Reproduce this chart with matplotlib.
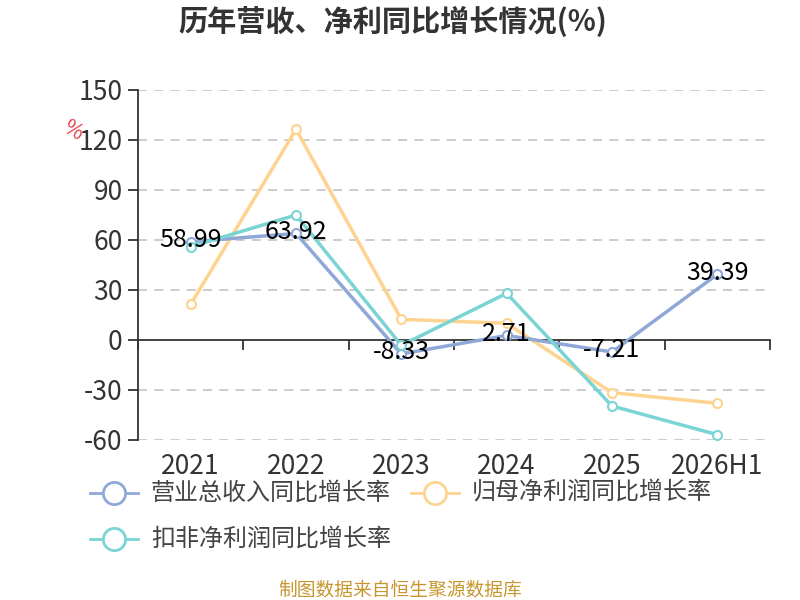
import matplotlib
matplotlib.use("Agg")
import matplotlib.pyplot as plt
import matplotlib.transforms as mtransforms
from matplotlib.lines import Line2D

plt.rcParams['font.family'] = ['Noto Sans CJK SC', 'DejaVu Sans']

categories = ['2021', '2022', '2023', '2024', '2025', '2026H1']
revenue_growth = [58.99, 63.92, -8.33, 2.71, -7.21, 39.39]
netprofit_growth = [21.4, 126.4, 12.4, 10.0, -31.6, -38.0]
deducted_growth = [56.0, 75.0, -3.2, 28.0, -39.6, -56.8]
series_names = ['营业总收入同比增长率', '归母净利润同比增长率', '扣非净利润同比增长率']
yticks = [-60, -30, 0, 30, 60, 90, 120, 150]

colors = ['#8fa8d8', '#fdd38f', '#7ad4d4']
text_color = '#333333'

fig = plt.figure(figsize=(8, 6), dpi=100)
ax = fig.add_axes([138/800, 1-440/600, (770-138)/800, 350/600])

x = list(range(len(categories)))
series = [revenue_growth, netprofit_growth, deducted_growth]
zorders = [4, 3, 5]
for vals, c, z in zip(series, colors, zorders):
    ax.plot(x, vals, color=c, lw=2.5, marker='o', ms=6.5, mfc='white',
            mec=c, mew=1.5, zorder=z, solid_joinstyle='round')

for xi, v in zip(x, revenue_growth):
    ax.text(xi, v + 1.0, f'{v:.2f}', ha='center', va='center', fontsize=18,
            color='black', zorder=10)

ax.set_xlim(-0.5, len(categories) - 0.5)
ax.set_ylim(-60, 150)

# grid
for t in yticks:
    if t != 0:
        ax.axhline(t, color='#c8c8c8', lw=1.3, ls=(0, (5, 4)), zorder=1)

ax.spines['top'].set_visible(False)
ax.spines['right'].set_visible(False)
ax.spines['left'].set_color(text_color)
ax.spines['left'].set_linewidth(1.3)
ax.spines['bottom'].set_position(('data', 0))
ax.spines['bottom'].set_color(text_color)
ax.spines['bottom'].set_linewidth(1.3)

ax.set_yticks(yticks)
ax.set_yticklabels([str(t) for t in yticks], fontsize=19, color=text_color)
ax.tick_params(axis='y', length=7, width=1.3, color=text_color, pad=4)

ax.set_xticks([i - 0.5 for i in range(len(categories) + 1)])
ax.set_xticklabels([])
ax.tick_params(axis='x', length=7, width=1.3, color=text_color, direction='out')

trans = mtransforms.blended_transform_factory(ax.transData, ax.transAxes)
for i, c in enumerate(categories):
    ax.text(i, -0.075, c, transform=trans, ha='center', va='center',
            fontsize=19, color=text_color)

fig.text(73/800, 1-131/600, '%', color='#e8323c', fontsize=15, rotation=-30,
         ha='center', va='center')

fig.text(393/800, 1-22/600, '历年营收、净利同比增长情况(%)', fontsize=21,
         fontweight='bold', ha='center', va='center', color=text_color)

# legend
leg_pos = [(114, 493), (435, 493), (114, 539)]
for (lx, ly), name, c in zip(leg_pos, series_names, colors):
    fig.add_artist(Line2D([(lx-24)/800, (lx+24)/800], [1-ly/600, 1-ly/600],
                          color=c, lw=2, transform=fig.transFigure))
    fig.add_artist(Line2D([lx/800], [1-ly/600], marker='o', ms=16, mfc='white',
                          mec=c, mew=2, transform=fig.transFigure))
    fig.text((lx+37)/800, 1-ly/600, name, fontsize=17.3, color='#444444',
             ha='left', va='center')

fig.text(400/800, 1-590/600, '制图数据来自恒生聚源数据库', fontsize=13.5,
         color='#c8962e', ha='center', va='center')

fig.savefig('out.png', dpi=100, facecolor='white')
